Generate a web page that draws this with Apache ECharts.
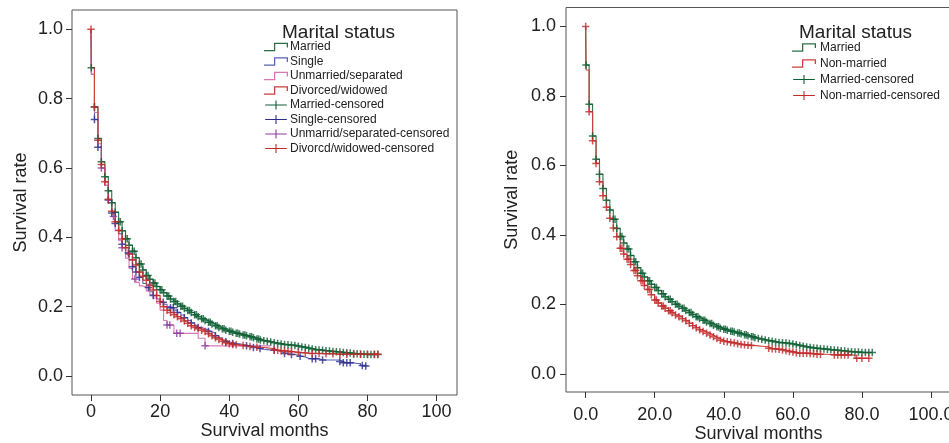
<!DOCTYPE html>
<html><head><meta charset="utf-8">
<script src="https://cdn.jsdelivr.net/npm/echarts@6/dist/echarts.min.js"></script>
<style>html,body{margin:0;padding:0;background:#fff}#c{width:949px;height:443px}</style>
</head><body><div id="c"></div>
<script>
// ---- Data ----
// time axis (months) for the step curves: index i -> months[i]
const months = [0, 0.1].concat(Array.from({length: 83}, (_, i) => i + 1));
const xTicksLeft = [0, 20, 40, 60, 80, 100];
const xTicksRight = [0, 20, 40, 60, 80, 100];
const yTicks = [0, 0.2, 0.4, 0.6, 0.8, 1.0];

// Left panel: four marital groups
const married = [1.0, 0.889, 0.776, 0.685, 0.618, 0.575, 0.534, 0.500, 0.472, 0.445, 0.419, 0.396, 0.377, 0.360, 0.341, 0.323, 0.306, 0.290, 0.279, 0.268, 0.258, 0.249, 0.240, 0.231, 0.222, 0.215, 0.208, 0.201, 0.195, 0.189, 0.183, 0.177, 0.171, 0.165, 0.160, 0.155, 0.150, 0.145, 0.140, 0.136, 0.132, 0.129, 0.126, 0.123, 0.121, 0.118, 0.116, 0.113, 0.110, 0.107, 0.104, 0.102, 0.100, 0.098, 0.096, 0.094, 0.092, 0.091, 0.090, 0.089, 0.088, 0.086, 0.084, 0.082, 0.080, 0.078, 0.076, 0.075, 0.074, 0.073, 0.072, 0.071, 0.070, 0.069, 0.068, 0.067, 0.066, 0.065, 0.064, 0.063, 0.063, 0.062, 0.062, 0.062, 0.062];
const single = [1.0, 0.870, 0.740, 0.660, 0.600, 0.550, 0.508, 0.470, 0.440, 0.410, 0.380, 0.355, 0.335, 0.315, 0.300, 0.285, 0.267, 0.255, 0.243, 0.232, 0.222, 0.213, 0.207, 0.200, 0.197, 0.190, 0.183, 0.176, 0.168, 0.160, 0.153, 0.146, 0.140, 0.136, 0.133, 0.128, 0.123, 0.116, 0.110, 0.104, 0.099, 0.096, 0.094, 0.093, 0.091, 0.089, 0.087, 0.085, 0.082, 0.079, 0.077, 0.076, 0.075, 0.075, 0.074, 0.070, 0.067, 0.065, 0.063, 0.062, 0.060, 0.057, 0.055, 0.051, 0.050, 0.050, 0.050, 0.046, 0.046, 0.046, 0.046, 0.046, 0.046, 0.042, 0.038, 0.038, 0.038, 0.036, 0.036, 0.030, 0.029, 0.029];
const unmarried = [1.0, 0.870, 0.760, 0.670, 0.600, 0.550, 0.500, 0.460, 0.420, 0.390, 0.370, 0.340, 0.310, 0.280, 0.270, 0.260, 0.255, 0.245, 0.235, 0.225, 0.210, 0.190, 0.160, 0.147, 0.147, 0.123, 0.123, 0.123, 0.123, 0.123, 0.123, 0.123, 0.109, 0.109, 0.087, 0.087, 0.087, 0.087, 0.087, 0.087, 0.087, 0.087, 0.087, 0.087, 0.087, 0.087, 0.087, 0.087, 0.087, 0.087, 0.087, 0.087, 0.087, 0.087];
const divorced = [1.0, 0.889, 0.776, 0.680, 0.610, 0.560, 0.510, 0.475, 0.445, 0.420, 0.395, 0.370, 0.352, 0.335, 0.320, 0.300, 0.288, 0.276, 0.262, 0.248, 0.232, 0.215, 0.200, 0.190, 0.183, 0.177, 0.171, 0.165, 0.159, 0.152, 0.145, 0.140, 0.136, 0.132, 0.128, 0.122, 0.116, 0.110, 0.105, 0.100, 0.096, 0.093, 0.091, 0.090, 0.089, 0.088, 0.087, 0.085, 0.084, 0.083, 0.082, 0.081, 0.080, 0.079, 0.075, 0.074, 0.073, 0.072, 0.071, 0.070, 0.069, 0.068, 0.067, 0.066, 0.065, 0.065, 0.065, 0.065, 0.064, 0.064, 0.064, 0.064, 0.063, 0.063, 0.063, 0.063, 0.063, 0.063, 0.063, 0.063, 0.063, 0.063, 0.063, 0.063, 0.063];
// Right panel: married vs non-married
const marriedR = married;
const nonMarried = [1.0, 0.875, 0.755, 0.671, 0.606, 0.553, 0.513, 0.480, 0.448, 0.420, 0.395, 0.362, 0.345, 0.330, 0.315, 0.298, 0.283, 0.268, 0.255, 0.243, 0.228, 0.213, 0.204, 0.196, 0.189, 0.182, 0.176, 0.170, 0.165, 0.159, 0.153, 0.146, 0.139, 0.133, 0.127, 0.122, 0.117, 0.112, 0.107, 0.102, 0.097, 0.094, 0.093, 0.091, 0.089, 0.087, 0.085, 0.084, 0.083, 0.082, 0.081, 0.080, 0.079, 0.078, 0.074, 0.073, 0.072, 0.071, 0.069, 0.067, 0.065, 0.063, 0.061, 0.060, 0.060, 0.060, 0.059, 0.058, 0.057, 0.057, 0.057, 0.056, 0.056, 0.055, 0.055, 0.055, 0.055, 0.055, 0.054, 0.045, 0.045, 0.045, 0.045, 0.045];

// censoring times (months)
const marriedCens = [0.1,1,2,3,4,5,6,7,8,8.5,9,10,10.5,11,12,12.5,13,14,14.5,15,16,16.5,17,18,18.5,19,20,20.5,21,22,22.5,23,24,24.5,25,26,26.5,27,28,28.5,29,30,30.5,31,32,32.5,33,34,34.5,35,36,36.5,37,38,38.5,39,40,40.5,41,42,42.5,43,44,44.5,45,46,46.5,47,48,48.5,49,50,51,52,53,54,55,56,57,58,59,60,61,62,63,64,65,66,67,68,69,70,71,72,73,74,75,76,77,78,79,80,81,82,83];
const singleCens = [1,2,5,6,7,9,10.8,12,13,14,16.6,18,20.9,23,23.8,25,27,29,31,34,36,39,41,45,47,48.9,53,56,58,60.5,64,65,67,72,73,74,75,78.5,79.5];
const unmarriedCens = [3,6.5,9,12.7,22,22.8,24.8,25.8,33];
const divorcedCens = [0,1,2,3,4,5,6,7,8,9,10,11,12,13,14,15,16,17,18,19,20,21,22,23,24,25,26,27,28,29,30,31,32,33,34,35,36,37,38,39,40,41,42,44,46,48,53,54,55,56,57,58,60,62,64,66,68,70,72,74,76,78,80,82,83];
const nonMarriedCens = [0,1,2,3,4,5,6,7,8,9,10,10.5,11,12,12.5,13,14,14.5,15,16,16.5,17,18,18.5,19,20,20.5,21,22,22.5,23,24,24.5,25,26,27,28,29,30,31,32,33,34,35,36,37,38,39,40,41,42,43,44,45,46,47,48,53,54,55,56,57,58,59,60,61,62,63,64,65,66,67,68,72,73,74,75,76,78.5,80,82];

const leftNames = ['Married','Single','Unmarried/separated','Divorced/widowed','Married-censored','Single-censored','Unmarrid/separated-censored','Divorcd/widowed-censored'];
const rightNames = ['Married','Non-married','Married-censored','Non-married-censored'];

// ---- helpers ----
const FONT = 'Liberation Sans, Arial, sans-serif';
const lineCol = {married:'#2a7046', single:'#5b62b4', unmarried:'#d678b8', divorced:'#c8413c'};
const censCol = {married:'#0e5f34', single:'#2b2d8e', unmarried:'#8c3fa0', divorced:'#c22a2a'};
const PLUS = 'path://M-0.2,-1H0.2V-0.2H1V0.2H0.2V1H-0.2V0.2H-1V-0.2H-0.2Z';
const STEP_ICON = 'path://M0,7.4H9.4V0.4H22.6V5H21.4V1.6H10.6V8.6H0Z';
const CENS_ICON = 'path://M0,4.4H11.4V0H12.6V4.4H24V5.6H12.6V10H11.4V5.6H0Z';

function curve(vals){ return vals.map((v,i)=>[months[i], v]); }
function at(vals, t){ let s = vals[0]; for (let i=0;i<vals.length;i++){ if (months[i] <= t + 1e-9) s = vals[i]; } return s; }
function cens(vals, times){ return times.map(t => [t, at(vals, t)]); }

function lineS(name, vals, col, ax){
  return {type:'line', name, step:'end', showSymbol:false, symbol:'none', data:curve(vals), xAxisIndex:ax, yAxisIndex:ax,
    lineStyle:{color:col, width:1.1}, itemStyle:{color:col}, z:2, silent:true};
}
function censS(name, vals, times, col, ax){
  return {type:'scatter', name, symbol:PLUS, symbolSize:7.5, data:cens(vals, times), xAxisIndex:ax, yAxisIndex:ax,
    itemStyle:{color:col}, z:3, silent:true};
}

function xAxis(gi, min, max, ticks, fmt, margin, gap){
  return {type:'value', gridIndex:gi, min, max, name:'Survival months', nameLocation:'middle', nameGap:gap, nameMoveOverlap:false,
    nameTextStyle:{fontSize:18, color:'#222', fontFamily:FONT, verticalAlign:'top'},
    axisLine:{show:false, onZero:false}, splitLine:{show:false},
    axisTick:{show:true, length:6, customValues:ticks, lineStyle:{color:'#333', width:1}},
    axisLabel:{customValues:ticks, formatter:fmt, fontSize:18, color:'#222', fontFamily:FONT, margin}};
}
function yAxis(gi, min, max, gap, margin){
  return {type:'value', gridIndex:gi, min, max, name:'Survival rate', nameLocation:'middle', nameGap:gap, nameMoveOverlap:false,
    nameTextStyle:{fontSize:18, color:'#222', fontFamily:FONT},
    axisLine:{show:false, onZero:false}, splitLine:{show:false},
    axisTick:{show:true, length:6, customValues:yTicks, lineStyle:{color:'#333', width:1}},
    axisLabel:{customValues:yTicks, formatter:v=>v.toFixed(1), fontSize:18, color:'#222', fontFamily:FONT, margin}};
}

function legendItems(names, cols, censFlags){
  return names.map((n,i)=>({name:n, icon: censFlags[i] ? CENS_ICON : STEP_ICON,
    itemStyle:{color:cols[i], borderWidth:0, opacity:1}}));
}

const chart = echarts.init(document.getElementById('c'), null, {renderer:'canvas'});
chart.setOption({
  animation:false,
  backgroundColor:'#fff',
  title:[
    {text:'Marital status', left:282, top:23.5, padding:0, textStyle:{fontSize:19, fontWeight:'normal', color:'#222', fontFamily:FONT}},
    {text:'Marital status', left:799, top:23.5, padding:0, textStyle:{fontSize:19, fontWeight:'normal', color:'#222', fontFamily:FONT}}
  ],
  grid:[
    {left:72, top:10, width:385, height:385, show:true, borderColor:'#555', borderWidth:1, backgroundColor:'transparent', containLabel:false, outerBoundsMode:'none'},
    {left:566, top:7.5, width:385, height:384.5, show:true, borderColor:'#555', borderWidth:1, backgroundColor:'transparent', containLabel:false, outerBoundsMode:'none'}
  ],
  xAxis:[
    xAxis(0, -5.5, 105.9, xTicksLeft, v=>String(v), 8, 27.5),
    xAxis(1, -5.7, 105.8, xTicksRight, v=>v.toFixed(1), 14, 33.5)
  ],
  yAxis:[
    yAxis(0, -0.0548, 1.0557, 42, 9),
    yAxis(1, -0.0518, 1.0547, 45, 10)
  ],
  legend:[
    {left:264, top:41, orient:'vertical', itemWidth:24, itemHeight:9, itemGap:2.5, padding:0, selectedMode:false,
     textStyle:{fontSize:12, color:'#222', fontFamily:FONT, lineHeight:12, padding:[0,0,0,-3]},
     data: legendItems(leftNames,
       [lineCol.married, lineCol.single, lineCol.unmarried, lineCol.divorced, censCol.married, censCol.single, censCol.unmarried, censCol.divorced],
       [0,0,0,0,1,1,1,1])},
    {left:792, top:41.5, orient:'vertical', itemWidth:24, itemHeight:9, itemGap:4, padding:0, selectedMode:false,
     textStyle:{fontSize:12, color:'#222', fontFamily:FONT, lineHeight:12, padding:[0,0,0,-1]},
     data: legendItems(rightNames, [lineCol.married, lineCol.divorced, censCol.married, censCol.divorced], [0,0,1,1])}
  ],
  series:[
    lineS('Married', married, lineCol.married, 0),
    lineS('Single', single, lineCol.single, 0),
    lineS('Unmarried/separated', unmarried, lineCol.unmarried, 0),
    lineS('Divorced/widowed', divorced, lineCol.divorced, 0),
    censS('Married-censored', married, marriedCens, censCol.married, 0),
    censS('Single-censored', single, singleCens, censCol.single, 0),
    censS('Unmarrid/separated-censored', unmarried, unmarriedCens, censCol.unmarried, 0),
    censS('Divorcd/widowed-censored', divorced, divorcedCens, censCol.divorced, 0),
    lineS('Married', marriedR, lineCol.married, 1),
    lineS('Non-married', nonMarried, lineCol.divorced, 1),
    censS('Married-censored', marriedR, marriedCens, censCol.married, 1),
    censS('Non-married-censored', nonMarried, nonMarriedCens, censCol.divorced, 1)
  ]
});
</script>
</body></html>
